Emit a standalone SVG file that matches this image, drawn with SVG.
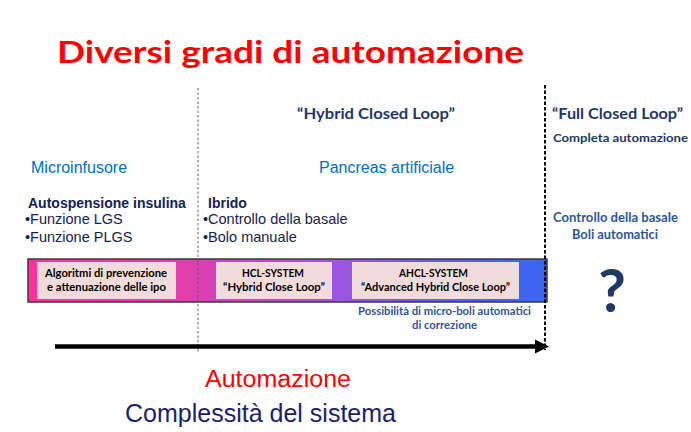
<svg xmlns="http://www.w3.org/2000/svg" width="691" height="432" viewBox="0 0 691 432">
<defs>
<linearGradient id="barGrad" x1="28" y1="0" x2="547" y2="0" gradientUnits="userSpaceOnUse">
<stop offset="0" stop-color="#FF3399"/>
<stop offset="0.3" stop-color="#E33EAE"/>
<stop offset="0.6" stop-color="#9D55E0"/>
<stop offset="0.93" stop-color="#4064F0"/>
<stop offset="1" stop-color="#3B66F2"/>
</linearGradient>
<style>
.cal{font-family:Lato,"Open Sans","Liberation Sans",sans-serif;font-weight:bold}
.ar{font-family:"Liberation Sans",Arial,sans-serif}
.box{fill:#F2DCDB}
.bt{font-size:11.5px;fill:#000}
.navy{fill:#1F3864}
.steel{fill:#2F5597}
.bul{fill:#16224F;font-size:14.5px}
</style>
</defs>
<rect width="691" height="432" fill="#fff"/>

<text class="cal" x="57" y="63" font-size="30.5" fill="#FF0000" textLength="467" lengthAdjust="spacingAndGlyphs">Diversi gradi di automazione</text>

<g id="hybrid-header">
<text class="cal navy" x="297" y="119" font-size="16" textLength="158" lengthAdjust="spacingAndGlyphs">“Hybrid Closed Loop”</text>
</g>
<g id="full-header">
<text class="cal navy" x="552" y="119" font-size="16" textLength="131" lengthAdjust="spacingAndGlyphs">“Full Closed Loop”</text>
<text class="cal navy" x="553" y="142" font-size="12" textLength="135" lengthAdjust="spacingAndGlyphs">Completa automazione</text>
</g>

<g id="microinfusore">
<text class="ar" x="31" y="173" font-size="16" fill="#0070C0">Microinfusore</text>
<text class="ar" x="28" y="208" font-size="14" font-weight="bold" fill="#16224F">Autospensione insulina</text>
<text class="ar bul" x="25" y="224">•Funzione LGS</text>
<text class="ar bul" x="25" y="242">•Funzione PLGS</text>
</g>

<g id="pancreas">
<text class="ar" x="319" y="173" font-size="16" fill="#0070C0">Pancreas artificiale</text>
<text class="ar" x="208" y="208" font-size="14" font-weight="bold" fill="#16224F">Ibrido</text>
<text class="ar bul" x="203" y="224">•Controllo della basale</text>
<text class="ar bul" x="203" y="242">•Bolo manuale</text>
</g>

<g id="full-desc">
<text class="cal steel" x="553" y="222" font-size="12.5" textLength="125" lengthAdjust="spacingAndGlyphs">Controllo della basale</text>
<text class="cal steel" x="572" y="239" font-size="12.5" textLength="86" lengthAdjust="spacingAndGlyphs">Boli automatici</text>
</g>

<g id="bar">
<rect x="28" y="259" width="519" height="43" fill="url(#barGrad)" stroke="#3A3A3A" stroke-width="1.5"/>
</g>

<g id="box-algoritmi">
<rect class="box" x="37" y="262" width="139" height="37"/>
<text class="cal bt" x="106" y="277" text-anchor="middle" textLength="122" lengthAdjust="spacingAndGlyphs">Algoritmi di prevenzione</text>
<text class="cal bt" x="106.5" y="291" text-anchor="middle" textLength="119" lengthAdjust="spacingAndGlyphs">e attenuazione delle ipo</text>
</g>

<g id="box-hcl">
<rect class="box" x="216" y="262" width="116" height="37"/>
<text class="cal bt" x="273" y="277" text-anchor="middle" textLength="62" lengthAdjust="spacingAndGlyphs">HCL-SYSTEM</text>
<text class="cal bt" x="274" y="291" text-anchor="middle" textLength="102" lengthAdjust="spacingAndGlyphs">“Hybrid Close Loop”</text>
</g>

<g id="box-ahcl">
<rect class="box" x="352" y="262" width="167" height="37"/>
<text class="cal bt" x="433.5" y="277" text-anchor="middle" textLength="69" lengthAdjust="spacingAndGlyphs">AHCL-SYSTEM</text>
<text class="cal bt" x="435.5" y="291" text-anchor="middle" textLength="149" lengthAdjust="spacingAndGlyphs">“Advanced Hybrid Close Loop”</text>
</g>

<g id="microboli">
<text class="cal steel" x="444.5" y="315" font-size="11" text-anchor="middle" textLength="173" lengthAdjust="spacingAndGlyphs">Possibilità di micro-boli automatici</text>
<text class="cal steel" x="444.5" y="329" font-size="11" text-anchor="middle" textLength="65" lengthAdjust="spacingAndGlyphs">di correzione</text>
</g>

<g id="question">
<text class="cal navy" x="612" y="312" font-size="60" text-anchor="middle">?</text>
</g>

<g id="connectors">
<line x1="198" y1="88" x2="198" y2="352" stroke="#555" stroke-width="0.9" stroke-dasharray="2.5,2"/>
<line x1="545" y1="85" x2="545" y2="350" stroke="#000" stroke-width="2" stroke-dasharray="3.5,2"/>
<line x1="55" y1="346.5" x2="538" y2="346.5" stroke="#000" stroke-width="4.5"/>
<polygon points="535,339.5 549,346.5 535,353.5" fill="#000"/>
</g>

<g id="axis-labels">
<text class="ar" x="205" y="387" font-size="23" fill="#FF0000" textLength="146" lengthAdjust="spacingAndGlyphs">Automazione</text>
<text class="ar" x="125" y="422" font-size="25" fill="#1E1E66" textLength="271" lengthAdjust="spacingAndGlyphs">Complessità del sistema</text>
</g>
</svg>
